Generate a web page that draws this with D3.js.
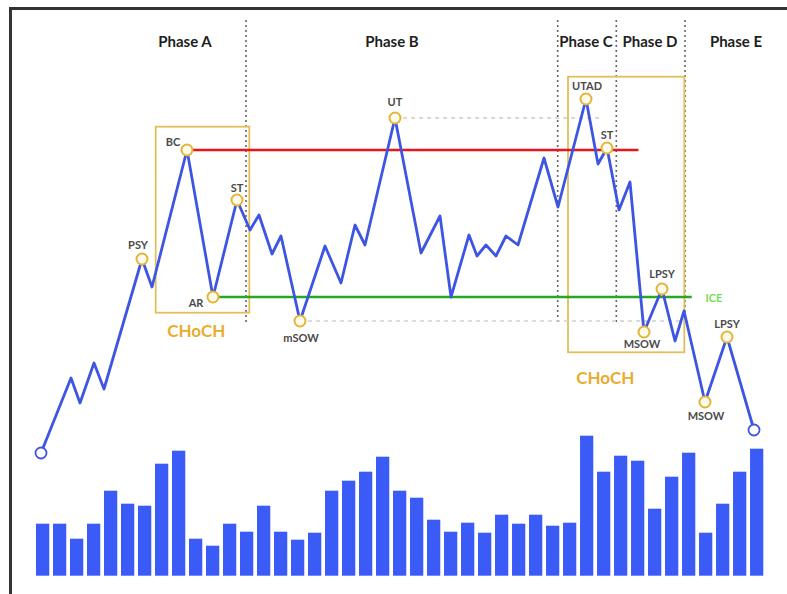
<!DOCTYPE html>
<html>
<head>
<meta charset="utf-8">
<script src="https://cdn.jsdelivr.net/npm/d3@7"></script>
<style>
	html, body { margin: 0; padding: 0; background: #fff; }
	svg { display: block; font-family: Lato, "Open Sans", sans-serif; }
</style>
</head>
<body>
<svg width="787" height="594"></svg>
<script>
// price path: time position + price
const priceT = [0, 30, 39, 53, 63, 101, 111, 146, 172, 196, 209, 218, 231, 240, 259, 284, 300, 314, 324, 354,
	380, 399, 410, 428, 436, 445, 455, 465, 477, 503, 517, 545, 557, 566, 578, 589, 603, 621, 634, 643, 664, 686, 713];
const priceV = [0, 75, 50, 90, 64, 194, 166, 303, 156, 253, 223, 238, 199, 217, 132, 207, 170, 228, 208, 335,
	200, 237, 156, 218, 197, 208, 197, 217, 208, 295, 246, 354, 289, 305, 243, 271, 121, 164, 112, 142, 51, 116, 23];

// volume bars
const volume = [52, 52, 37, 52, 85, 72, 70, 112, 125, 37, 30, 52, 44, 70, 44, 36, 43, 85, 95, 104, 119, 85,
	78, 56, 44, 53, 43, 61, 52, 61, 50, 53, 140, 104, 120, 115, 67, 99, 123, 43, 72, 104, 127];

// labelled points: index into price path, label
const markIdx = [5, 7, 8, 9, 14, 19, 31, 33, 36, 37, 40, 41];
const markLabel = ["PSY", "BC", "AR", "ST", "mSOW", "UT", "UTAD", "ST", "MSOW", "LPSY", "MSOW", "LPSY"];

const phaseNames = ["Phase A", "Phase B", "Phase C", "Phase D", "Phase E"];
const phaseCenter = [144, 351, 545, 609, 695];
const phaseDividers = [205, 516.7, 575.3, 644];

let svg = d3.select("svg"),
	width = +svg.attr("width"),
	height = +svg.attr("height");

let x = d3.scaleLinear().domain([0, 713]).range([41, 754]);
let y = d3.scaleLinear().domain([0, 355]).range([453, 98]);

let xb = d3.scaleBand()
	.domain(d3.range(volume.length))
	.range([36, 763.3])
	.paddingInner(0.22);
let yb = d3.scaleLinear().domain([0, 140]).range([575.7, 435.7]);

// frame (left + top only)
svg.append("path")
	.attr("d", "M10.5," + height + " L10.5,8.5 L" + width + ",8.5")
	.attr("fill", "none")
	.attr("stroke", "#333")
	.attr("stroke-width", 3);

// volume
svg.append("g")
	.selectAll("rect")
	.data(volume)
	.enter().append("rect")
	.attr("x", (d, i) => xb(i))
	.attr("width", xb.bandwidth())
	.attr("y", d => yb(d))
	.attr("height", d => yb(0) - yb(d))
	.attr("fill", "#3b5bf6");

// phase dividers
svg.append("g")
	.selectAll("line")
	.data(phaseDividers)
	.enter().append("line")
	.attr("x1", d => x(d)).attr("x2", d => x(d))
	.attr("y1", 20).attr("y2", 323)
	.attr("stroke", "#666")
	.attr("stroke-width", 1.6)
	.attr("stroke-dasharray", "2,3");

svg.append("g")
	.selectAll("text")
	.data(phaseNames)
	.enter().append("text")
	.attr("x", (d, i) => x(phaseCenter[i]))
	.attr("y", 47)
	.attr("text-anchor", "middle")
	.style("font-size", "15px")
	.style("font-weight", "bold")
	.attr("fill", "#1e1e1e")
	.text(d => d);

// CHoCH boxes [t0, t1, p0, p1]
const boxes = [[114.7, 208.3, 140.3, 326.3], [527, 643.3, 100.7, 376.3]];
svg.append("g")
	.selectAll("rect")
	.data(boxes)
	.enter().append("rect")
	.attr("x", d => x(d[0]))
	.attr("width", d => x(d[1]) - x(d[0]))
	.attr("y", d => y(d[3]))
	.attr("height", d => y(d[2]) - y(d[3]))
	.attr("fill", "none")
	.attr("stroke", "#e3bf5a")
	.attr("stroke-width", 1.8);

svg.append("g")
	.selectAll("text")
	.data([[155.3, 116.3], [564.3, 68.7]])
	.enter().append("text")
	.attr("x", d => x(d[0]))
	.attr("y", d => y(d[1]))
	.attr("text-anchor", "middle")
	.style("font-size", "17px")
	.style("font-weight", "bold")
	.attr("fill", "#e8ac30")
	.text("CHoCH");

// levels [t0, t1, price, color, dash]
const levels = [
	[354, 558, 335, "#dcc8c8", "4,4"],
	[259, 650.7, 132, "#cfcfcf", "4,4"],
	[146, 597.5, 303, "#e8161b", null],
	[172, 650.7, 156, "#26a826", null]
];
svg.append("g")
	.selectAll("line")
	.data(levels)
	.enter().append("line")
	.attr("x1", d => x(d[0])).attr("x2", d => x(d[1]))
	.attr("y1", d => y(d[2])).attr("y2", d => y(d[2]))
	.attr("stroke", d => d[3])
	.attr("stroke-width", d => d[4] ? 1.5 : 2.5)
	.attr("stroke-dasharray", d => d[4]);

svg.append("text")
	.attr("x", x(673))
	.attr("y", y(151))
	.attr("text-anchor", "middle")
	.style("font-size", "11px")
	.style("font-weight", "bold")
	.attr("fill", "#76db55")
	.text("ICE");

// price line
let pts = priceT.map((t, i) => [t, priceV[i]]);
svg.append("path")
	.datum(pts)
	.attr("fill", "none")
	.attr("stroke", "#3d55e0")
	.attr("stroke-width", 2.8)
	.attr("stroke-linejoin", "round")
	.attr("d", d3.line().x(d => x(d[0])).y(d => y(d[1])));

// start / end points
svg.append("g")
	.selectAll("circle")
	.data([pts[0], pts[pts.length - 1]])
	.enter().append("circle")
	.attr("cx", d => x(d[0]))
	.attr("cy", d => y(d[1]))
	.attr("r", 5.5)
	.attr("fill", "#fff")
	.attr("stroke", "#3d55e0")
	.attr("stroke-width", 1.8);

// label offsets (dx, dy) relative to the point
const labelOff = [[-4, -10], [-14, -4], [-17, 10], [0, -8], [1, 21], [0, -12],
	[1, -9], [0, -9], [-2, 16], [0, -11], [1, 18], [0, -9]];

let marks = svg.append("g")
	.selectAll("g")
	.data(markIdx)
	.enter().append("g")
	.attr("transform", d => "translate(" + x(priceT[d]) + "," + y(priceV[d]) + ")");

marks.append("circle")
	.attr("r", 5.5)
	.attr("fill", "#fffbea")
	.attr("stroke", "#e2b43a")
	.attr("stroke-width", 2);

marks.append("text")
	.attr("x", (d, i) => labelOff[i][0])
	.attr("y", (d, i) => labelOff[i][1])
	.attr("text-anchor", "middle")
	.style("font-size", "11px")
	.style("font-weight", "bold")
	.attr("fill", "#4a4a4a")
	.text((d, i) => markLabel[i]);
</script>
</body>
</html>
